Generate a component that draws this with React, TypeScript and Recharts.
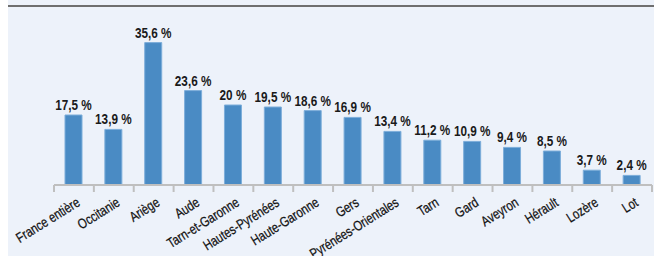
import React from 'react';
import { BarChart, Bar, XAxis, YAxis, LabelList } from 'recharts';

const departements = [
  'France entière', 'Occitanie', 'Ariège', 'Aude', 'Tarn-et-Garonne',
  'Hautes-Pyrénées', 'Haute-Garonne', 'Gers', 'Pyrénées-Orientales', 'Tarn',
  'Gard', 'Aveyron', 'Hérault', 'Lozère', 'Lot',
];
const taux = [17.5, 13.9, 35.6, 23.6, 20, 19.5, 18.6, 16.9, 13.4, 11.2, 10.9, 9.4, 8.5, 3.7, 2.4];

const data = departements.map((name, i) => ({ name, value: taux[i] }));

const fmt = (v: number) => `${String(v).replace('.', ',')} %`;

const W = 646;
const H = 256;
const margin = { top: 25, left: 46, right: 2, bottom: 0 };
const band = (W - margin.left - margin.right) / departements.length;
const font = '"Liberation Sans", Arial, sans-serif';
// police étroite simulée
const narrow = 0.8;

const Tick = (props: any) => {
  const { x, y, payload, index } = props;
  const axisY = y - 7;
  const last = index === departements.length - 1;
  return (
    <g>
      <line x1={x - band / 2} x2={x - band / 2} y1={axisY} y2={axisY + 7} stroke="#BFBFBF" strokeWidth={2} />
      {last && (
        <line x1={x + band / 2} x2={x + band / 2} y1={axisY} y2={axisY + 7} stroke="#BFBFBF" strokeWidth={2} />
      )}
      <text
        x={0}
        y={0}
        transform={`translate(${x + 7},${y + 13}) rotate(-32) scale(${narrow},1)`}
        textAnchor="end"
        fontSize={14}
        fontFamily={font}
        fill="#111"
        stroke="#111"
        strokeWidth={0.25}
      >
        {payload.value}
      </text>
    </g>
  );
};

const ValueLabel = (props: any) => {
  const { x, y, width, value } = props;
  return (
    <text
      x={0}
      y={0}
      transform={`translate(${x + width / 2},${y - 5}) scale(0.84,1)`}
      textAnchor="middle"
      fontSize={14}
      fontWeight="bold"
      fontFamily={font}
      fill="#1a1a1a"
    >
      {fmt(value)}
    </text>
  );
};

const App = () => {
  return (
    <div
      style={{
        position: 'absolute',
        left: 8,
        top: 0,
        width: W,
        height: H,
        background: '#EDF2FA',
      }}
    >
      <div style={{ position: 'absolute', left: 0, right: 0, top: 5, height: 2, background: '#6F6F6F' }} />
      <BarChart width={W} height={H} data={data} margin={margin}>
        <YAxis hide domain={[0, 40]} />
        <XAxis
          dataKey="name"
          interval={0}
          height={71}
          tickLine={false}
          tickSize={7}
          tickMargin={0}
          axisLine={{ stroke: '#BFBFBF', strokeWidth: 2 }}
          tick={<Tick />}
        />
        <Bar dataKey="value" barSize={17} fill="#4A8BC4" stroke="#7DAEDA" strokeWidth={1} isAnimationActive={false}>
          <LabelList dataKey="value" content={<ValueLabel />} />
        </Bar>
      </BarChart>
    </div>
  );
};

export default App;
